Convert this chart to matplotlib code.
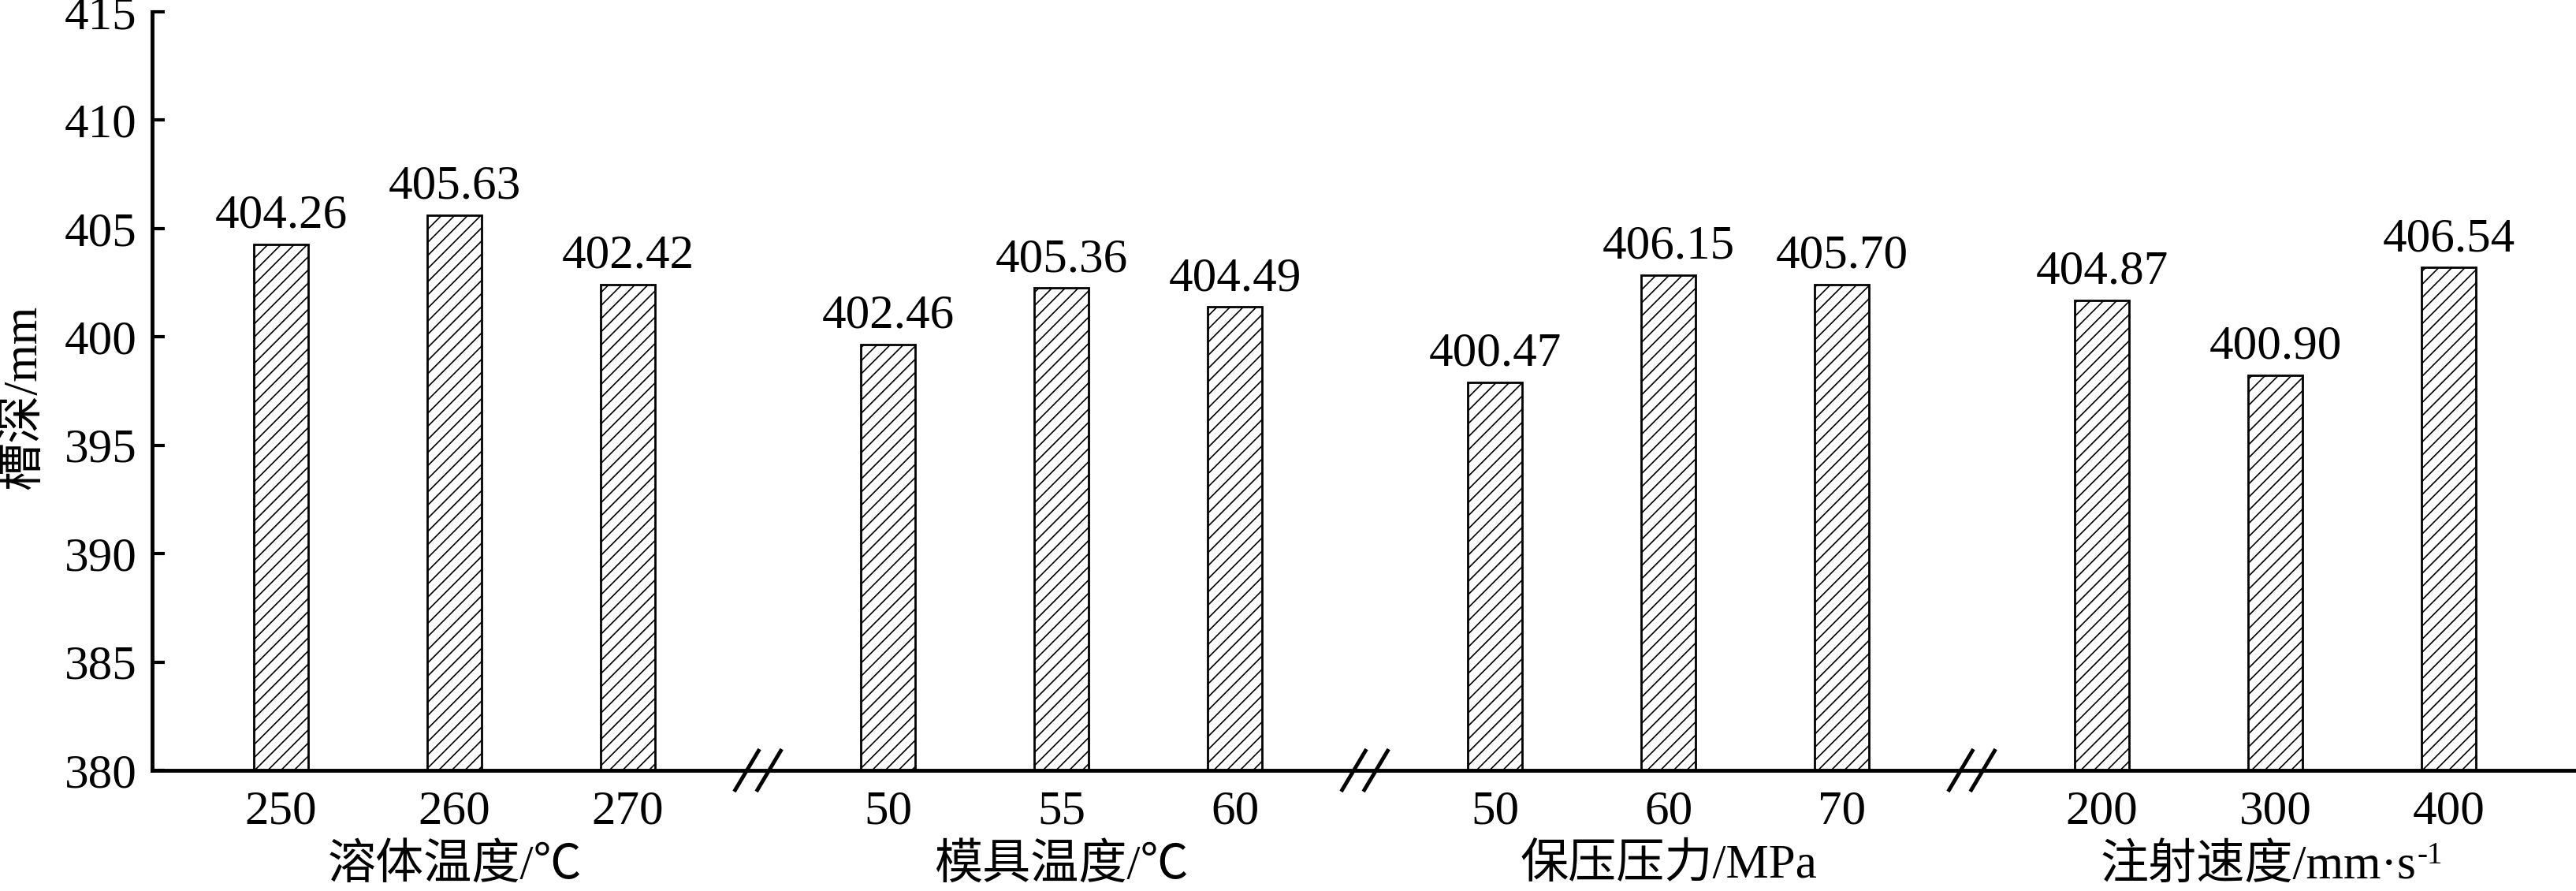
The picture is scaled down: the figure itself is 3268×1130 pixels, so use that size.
import matplotlib
matplotlib.use("Agg")
import matplotlib.pyplot as plt
import matplotlib.transforms as mtransforms

# ---- data ----
group_names = ['溶体温度/℃', '模具温度/℃', '保压压力/MPa', '注射速度/mm·s']
tick_labels = ['250', '260', '270', '50', '55', '60', '50', '60', '70', '200', '300', '400']
bar_heights = [404.26, 405.63, 402.42, 399.65, 402.25, 401.38,
               397.90, 402.86, 402.43, 401.70, 398.24, 403.20]
value_labels = ['404.26', '405.63', '402.42', '402.46', '405.36', '404.49',
                '400.47', '406.15', '405.70', '404.87', '400.90', '406.54']
y_ticks = [380, 385, 390, 395, 400, 405, 410, 415]

FONT = ['Liberation Serif', 'Noto Sans CJK SC', 'DejaVu Serif']
plt.rcParams['font.family'] = FONT
plt.rcParams['hatch.linewidth'] = 1.2
plt.rcParams['hatch.color'] = 'black'

n_per_group = 3
group_step = 3.5
positions = [g * group_step + j for g in range(len(group_names)) for j in range(n_per_group)]
group_centers = [g * group_step + (n_per_group - 1) / 2 for g in range(len(group_names))]
breaks = [(g * group_step + n_per_group - 1 + (g + 1) * group_step) / 2
          for g in range(len(group_names) - 1)]

fig = plt.figure(figsize=(32.68, 11.3), dpi=100)
ax = fig.add_axes([0.0591, 0.1354, 0.9409, 0.8513])

bars = ax.bar(positions, bar_heights, width=0.31, bottom=0,
              color='white', edgecolor='black', linewidth=2.0, hatch='//')

for x, h, lab in zip(positions, bar_heights, value_labels):
    ax.annotate(lab, xy=(x, h), xytext=(0, 6), textcoords='offset points',
                ha='center', va='bottom', fontsize=44, family=FONT)

ax.set_ylim(380, 415)
ax.set_xlim(-0.743, 13.234)
ax.set_yticks(y_ticks)
ax.set_yticklabels([str(t) for t in y_ticks])
ax.set_xticks(positions)
ax.set_xticklabels(tick_labels)

ax.tick_params(axis='y', direction='in', length=11.5, width=3, labelsize=44, pad=14)
ax.tick_params(axis='x', length=0, labelsize=44, pad=18)

for s in ['top', 'right']:
    ax.spines[s].set_visible(False)
for s in ['left', 'bottom']:
    ax.spines[s].set_linewidth(3.5)

# break marks on x axis
trans = mtransforms.blended_transform_factory(ax.transData, ax.transAxes)
for b in breaks:
    for off in (-0.064, 0.064):
        ax.plot([b + off - 0.073, b + off + 0.073], [-0.028, 0.028],
                transform=trans, color='black', lw=3.5, clip_on=False,
                solid_capstyle='butt')

# group labels
for g, (xc, name) in enumerate(zip(group_centers, group_names)):
    if g == len(group_names) - 1:
        t = ax.text(xc - 0.1, -0.126, name, transform=trans, ha='center', va='center',
                    fontsize=44, family=FONT)
        ax.annotate('-1', xy=(1, 1), xycoords=t, xytext=(1, 2), textcoords='offset points',
                    ha='left', va='top', fontsize=28, family=FONT)
    else:
        ax.text(xc, -0.126, name, transform=trans, ha='center', va='center',
                fontsize=44, family=FONT)

fig.text(30 / 3268, 1 - 504 / 1130, '槽深/mm', rotation=90, ha='center', va='center',
         fontsize=44, family=FONT)

fig.savefig('out.png', dpi=100)
